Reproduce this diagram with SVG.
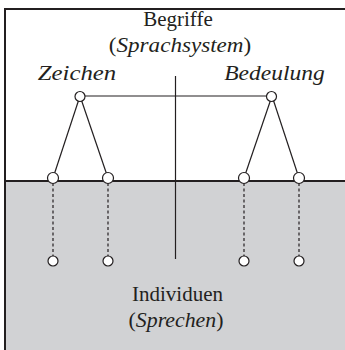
<svg xmlns="http://www.w3.org/2000/svg" width="345" height="350" viewBox="0 0 345 350">
<style>
text{font-size:21px;fill:#231f20;text-anchor:middle}
.i{font-style:italic}
.ln{stroke:#231f20;stroke-width:1.2;fill:none}
.ds{stroke:#231f20;stroke-width:1.2;stroke-dasharray:3,2.5;fill:none}
.nd{fill:#fff;stroke:#231f20;stroke-width:1.2}
</style>
<rect x="5" y="9" width="340" height="341" fill="#fff"/>
<rect x="5" y="181" width="340" height="169" fill="#d1d2d4"/>
<g id="connectors">
<line class="ln" x1="80" y1="96" x2="272" y2="96"/>
<line class="ln" x1="175.5" y1="76" x2="175.5" y2="259"/>
<line class="ln" x1="80" y1="96" x2="53" y2="178"/>
<line class="ln" x1="80" y1="96" x2="108" y2="178"/>
<line class="ln" x1="272" y1="96" x2="244" y2="178"/>
<line class="ln" x1="272" y1="96" x2="299" y2="178"/>
<line class="ds" x1="53" y1="183" x2="53" y2="256"/>
<line class="ds" x1="108" y1="183" x2="108" y2="256"/>
<line class="ds" x1="244" y1="183" x2="244" y2="256"/>
<line class="ds" x1="299" y1="183" x2="299" y2="256"/>
</g>
<path d="M5,350 V9 H345" stroke="#231f20" stroke-width="2" fill="none"/>
<line x1="5" y1="181" x2="345" y2="181" stroke="#231f20" stroke-width="1.8"/>
<g id="zeichen"><circle class="nd" cx="80" cy="96.5" r="5"/></g>
<g id="bedeutung"><circle class="nd" cx="271.5" cy="96.5" r="5"/></g>
<g id="z1"><circle class="nd" cx="53" cy="178" r="5.5"/></g>
<g id="z2"><circle class="nd" cx="108" cy="178" r="5.5"/></g>
<g id="b1"><circle class="nd" cx="244" cy="178" r="5.5"/></g>
<g id="b2"><circle class="nd" cx="299" cy="178" r="5.5"/></g>
<g id="i1"><circle class="nd" cx="53" cy="261" r="5"/></g>
<g id="i2"><circle class="nd" cx="108" cy="261" r="5"/></g>
<g id="i3"><circle class="nd" cx="244" cy="261" r="5"/></g>
<g id="i4"><circle class="nd" cx="299" cy="261" r="5"/></g>
<g id="labels" font-family="Liberation Serif, Times New Roman, serif">
<text x="178" y="26">Begriffe</text>
<text transform="translate(180,52) scale(1.1,1)">(<tspan class="i">Sprachsystem</tspan>)</text>
<text class="i" transform="translate(77,80) scale(1.18,1)">Zeichen</text>
<text class="i" transform="translate(274.5,80) scale(1.12,1)">Bedeulung</text>
<text x="177.5" y="301">Individuen</text>
<text transform="translate(176,327) scale(1.04,1)">(<tspan class="i">Sprechen</tspan>)</text>
</g>
</svg>
